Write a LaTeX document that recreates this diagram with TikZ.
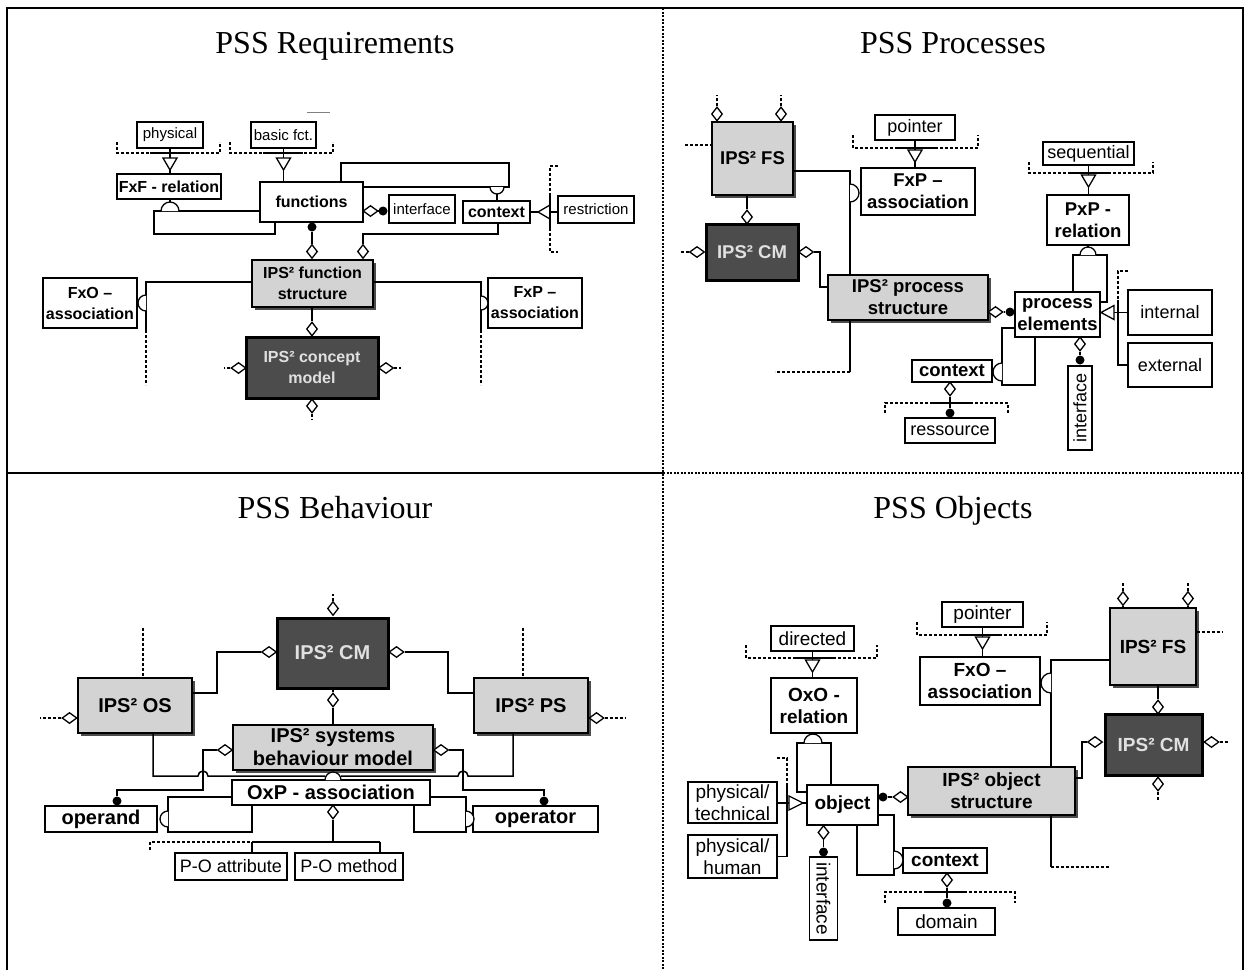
\documentclass[tikz,border=0pt]{standalone}
\usepackage{fontspec}
\setmainfont{Liberation Serif}
\newfontfamily\arial{Liberation Sans}
\usetikzlibrary{shapes.geometric,shadows}

\definecolor{boxgrey}{HTML}{D3D3D3}
\definecolor{boxdark}{HTML}{4C4C4C}

\newcommand\qaf{\arial\fontsize{15}{20}\selectfont}
\newcommand\qab{\arial\bfseries\fontsize{16}{21}\selectfont}
\newcommand\qbf{\arial\fontsize{18}{21}\selectfont}
\newcommand\qbb{\arial\bfseries\fontsize{18.5}{22}\selectfont}
\newcommand\qcf{\arial\fontsize{18}{22}\selectfont}
\newcommand\qcb{\arial\bfseries\fontsize{20}{23}\selectfont}
\newcommand\qdf{\arial\fontsize{19}{22}\selectfont}
\newcommand\qdb{\arial\bfseries\fontsize{19}{22}\selectfont}

\tikzset{
  box/.style={draw, line width=1.5pt, fill=white, inner sep=1pt, align=center},
  grey/.style={box, fill=boxgrey, drop shadow={shadow xshift=3pt, shadow yshift=-3pt, fill=black!70, opacity=1}},
  dark/.style={box, fill=boxdark, line width=3pt, text=white!88!black},
  agg/.style={diamond, draw, fill=white, line width=1.3pt, inner sep=0pt, minimum width=11pt, minimum height=14pt},
  aggh/.style={agg, minimum width=15pt, minimum height=11pt},
  dot/.style={circle, fill=black, inner sep=0pt, minimum size=9pt},
  link/.style={line width=1.5pt},
  cat/.style={line width=1.3pt, dash pattern=on 3pt off 2pt},
  sym/.style={line width=1.3pt, fill=white},
  title/.style={anchor=base, font=\fontsize{32}{38}\selectfont}
}

\begin{document}
\begin{tikzpicture}[x=1pt, y=-1pt]
    \useasboundingbox (0,0) rectangle (1248,970);
    \fill[white] (0,0) rectangle (1248,970);

    % table frame
    \draw[line width=2pt] (7,970) -- (7,8) -- (1243,8) -- (1243,970);
    \draw[line width=2pt] (7,473) -- (663,473);
    \draw[line width=1.5pt, dash pattern=on 2pt off 1.5pt] (663,473) -- (1243,473);
    \draw[line width=1.5pt, dash pattern=on 2pt off 1.5pt] (663,8) -- (663,970);

    \node[title] (treq) at (335,53) {PSS Requirements};
    \node[title] (tpro) at (953,53) {PSS Processes};
    \node[title] (tbeh) at (335,518) {PSS Behaviour};
    \node[title] (tobj) at (953,518) {PSS Objects};

    % ---------------- PSS Requirements
    \node[box, font=\qaf, minimum width=66, minimum height=26] (phys) at (170,135) {physical};
    \node[box, font=\qaf, minimum width=65, minimum height=26] (basic) at (283.5,135) {basic fct.};
    \node[box, font=\qab, minimum width=104, minimum height=25] (fxf) at (169,186.5) {FxF - relation};
    \node[box, font=\qab, minimum width=103, minimum height=40] (fun) at (311.5,202) {functions};
    \node[box, font=\qaf, minimum width=66, minimum height=28] (ifc) at (422,209) {interface};
    \node[box, font=\qab, minimum width=67, minimum height=22] (ctx) at (496.5,212) {context};
    \node[box, font=\qaf, minimum width=76, minimum height=27] (restr) at (596,209.5) {restriction};
    \node[grey, font=\qab, minimum width=121, minimum height=47] (fs) at (312.5,283.5) {IPS² function\\structure};
    \node[box, font=\qab, minimum width=94, minimum height=50] (fxo) at (90,303) {FxO –\\association};
    \node[box, font=\qab, minimum width=94, minimum height=50] (fxp) at (535,303) {FxP –\\association};
    \node[dark, font=\qab, minimum width=132, minimum height=61] (cm) at (312,367.5) {IPS² concept\\model};

    \draw[gray, line width=0.8pt] (307,112) -- (330,112);

    \draw[link] (phys.south) -- (phys.south |- fxf.north);
    \draw[cat] (117,142) -- (117,153) -- (220,153) -- (220,142);
    \draw[link] (150,153) -- (190,153);
    \draw[sym] (170,170) -- ++(-7,-12) -- ++(14,0) -- cycle;

    \draw[link] (basic.south) -- (basic.south |- fun.north);
    \draw[cat] (230,142) -- (230,153) -- (333,153) -- (333,142);
    \draw[link] (263,153) -- (303,153);
    \draw[sym] (283.5,170) -- ++(-7,-12) -- ++(14,0) -- cycle;

    \draw[link] (fun.west |- 0,211) -- (154,211) -- (154,234) -- (275,234) -- (275,0 |- fun.south);
    \draw[link] (170,202) -- (fxf.south -| 170,0);
    \draw[sym] (161,211) arc[start angle=180, end angle=0, radius=9pt];

    \draw[link] (341,0 |- fun.north) -- (341,163) -- (509,163) -- (509,187) -- (fun.east |- 0,187);
    \draw[link] (497,194) -- (497,0 |- ctx.north);
    \draw[sym] (490,187) arc[start angle=180, end angle=360, radius=7pt];

    \node[aggh] (a1) at (370.5,211) {};
    \node[dot] (p2) at (383,211) {};
    \draw[link] (a1) -- (p2) -- (ifc.west |- p2);

    \draw[link] (ctx.east) -- (restr.west |- ctx.east);
    \draw[sym] (538,212) -- ++(12,-7) -- ++(0,14) -- cycle;
    \draw[cat] (558,166) -- (550,166) -- (550,252) -- (558,252);
    \draw[link] (550,195) -- (550,229);

    \node[agg] (a2) at (363,251.5) {};
    \draw[link] (498,0 |- ctx.south) -- (498,234) -- (363,234) -- (a2);
    \draw[link] (a2) -- (a2 |- fs.north);

    \node[dot] (p1) at (312,227) {};
    \node[agg] (a3) at (312,251.5) {};
    \draw[link] (p1) -- (a3) (a3) -- (a3 |- fs.north);

    \draw[link] (fs.west |- 0,282) -- (146,282) -- (146,330);
    \draw[cat] (146,330) -- (146,385);
    \draw[sym] (146,295) arc[start angle=90, end angle=270, radius=8pt];
    \draw[link] (fs.east |- 0,282) -- (481,282) -- (481,330);
    \draw[cat] (481,330) -- (481,385);
    \draw[sym] (481,296) arc[start angle=90, end angle=-90, radius=7pt];

    \node[agg] (a4) at (312,329) {};
    \draw[link] (fs.south -| a4) -- (a4) -- (a4 |- cm.north);
    \node[aggh] (a5) at (238.5,368) {};
    \draw[cat] (a5) -- (224,368);
    \node[aggh] (a6) at (386,368) {};
    \draw[cat] (a6) -- (401,368);
    \node[agg] (a7) at (312,406) {};
    \draw[cat] (a7) -- (312,420);

    % ---------------- PSS Processes
    \node[grey, font=\qbb, minimum width=81, minimum height=73] (fs2) at (752.5,158.5) {IPS² FS};
    \node[dark, font=\qbb, minimum width=92, minimum height=56] (cm2) at (752,252) {IPS² CM};
    \node[box, font=\qbb, minimum width=114, minimum height=47] (fxp2) at (918,191.5) {FxP –\\association};
    \node[box, font=\qbf, minimum width=80, minimum height=25] (ptr2) at (915,127.5) {pointer};
    \node[box, font=\qbf, minimum width=91, minimum height=23] (seq) at (1088.5,153.5) {sequential};
    \node[box, font=\qbb, minimum width=82, minimum height=50] (pxp) at (1088,220) {PxP -\\relation};
    \node[grey, font=\qbb, minimum width=160, minimum height=45] (ps) at (908,297.5) {IPS² process\\structure};
    \node[box, font=\qbb, minimum width=85, minimum height=45] (pe) at (1057.5,314.5) {process\\elements};
    \node[box, font=\qbb, minimum width=80, minimum height=22] (ctx2) at (952,371) {context};
    \node[box, font=\qbf, minimum width=90, minimum height=25] (res) at (950,430.5) {ressource};
    \node[box, font=\qbf, minimum width=84, minimum height=45] (int) at (1170,312.5) {internal};
    \node[box, font=\qbf, minimum width=84, minimum height=44] (ext) at (1170,365) {external};
    \node[box, font=\qbf, rotate=90, minimum width=84, minimum height=24] (ifc2) at (1080,408) {interface};

    \node[agg] (b1) at (717,114) {};
    \node[agg] (b2) at (781,114) {};
    \draw[link] (b1) -- (b1 |- fs2.north) (b2) -- (b2 |- fs2.north);
    \draw[cat] (b1) -- (717,95) (b2) -- (781,95);
    \draw[cat] (685,145) -- (fs2.west |- 0,145);

    \node[agg] (b3) at (747,217) {};
    \draw[link] (fs2.south -| b3) -- (b3);
    \node[aggh] (b4) at (697,252) {};
    \draw[cat] (b4) -- (680,252);
    \node[aggh] (b5) at (806,252) {};
    \draw[link] (b5) -- (820,252) -- (820,287) -- (ps.west |- 0,287);

    \draw[link] (fs2.east |- 0,171) -- (850,171) -- (850,0 |- ps.north);
    \draw[link] (850,0 |- ps.south) -- (850,372);
    \draw[cat] (850,372) -- (775,372);
    \draw[sym] (850,184) arc[start angle=90, end angle=-90, radius=9pt];

    \draw[link] (ptr2.south) -- (ptr2.south |- fxp2.north);
    \draw[cat] (853,135) -- (853,148) -- (978,148) -- (978,135);
    \draw[link] (895,148) -- (935,148);
    \draw[sym] (915,162) -- ++(-7,-12) -- ++(14,0) -- cycle;

    \draw[link] (seq.south) -- (seq.south |- pxp.north);
    \draw[cat] (1029,162) -- (1029,173) -- (1153,173) -- (1153,162);
    \draw[link] (1068,173) -- (1108,173);
    \draw[sym] (1088.5,187) -- ++(-7,-12) -- ++(14,0) -- cycle;

    \draw[link] (1073,0 |- pe.north) -- (1073,255) -- (1107,255) -- (1107,302) -- (pe.east |- 0,302);
    \draw[link] (1088,247) -- (1088,0 |- pxp.south);
    \draw[sym] (1080,255) arc[start angle=180, end angle=0, radius=8pt];

    \node[aggh] (b6) at (995.5,312) {};
    \node[dot] (b7) at (1010,312) {};
    \draw[link] (b6) -- (b7);

    \draw[link] (pe.west |- 0,328) -- (1002,328) -- (1002,385) -- (1035,385) -- (1035,0 |- pe.south);
    \draw[sym] (1002,363) arc[start angle=90, end angle=270, radius=9pt];

    \node[agg] (b8) at (950,389) {};
    \node[dot] (b9) at (950,413) {};
    \draw[link] (b8) -- (b9);
    \draw[cat] (885,413) -- (885,403) -- (1008,403) -- (1008,413);
    \draw[link] (930,403) -- (970,403);

    \draw[link] (pe.east |- int.west) -- (int.west);
    \draw[sym] (1101,312.5) -- ++(13,-7) -- ++(0,14) -- cycle;
    \draw[cat] (1128,271) -- (1118,271) -- (1118,300);
    \draw[link] (1118,300) -- (1118,0 |- ext.west) -- (ext.west);

    \node[agg] (b10) at (1080,344) {};
    \node[dot] (b11) at (1080,360) {};
    \draw[link] (b10) -- (b11) -- (ifc2.east);

    % ---------------- PSS Behaviour
    \node[dark, font=\qcb, minimum width=111, minimum height=70] (cm3) at (332.5,653) {IPS² CM};
    \node[grey, font=\qcb, minimum width=114, minimum height=55] (os) at (135,705.5) {IPS² OS};
    \node[grey, font=\qcb, minimum width=114, minimum height=55] (ps3) at (531,705.5) {IPS² PS};
    \node[grey, font=\qcb, minimum width=200, minimum height=45] (sbm) at (333,747.5) {IPS² systems\\behaviour model};
    \node[box, font=\qcb, minimum width=198, minimum height=25] (oxp) at (331,792.5) {OxP - association};
    \node[box, font=\qcb, minimum width=112, minimum height=26] (opd) at (101,819) {operand};
    \node[box, font=\qcb, minimum width=125, minimum height=26] (opr) at (535.5,819) {operator};
    \node[box, font=\qcf, minimum width=112, minimum height=27] (poa) at (231,866.5) {P-O attribute};
    \node[box, font=\qcf, minimum width=108, minimum height=27] (pom) at (349,866.5) {P-O method};

    \node[agg] (c1) at (333,608.5) {};
    \draw[cat] (c1) -- (333,594);
    \node[aggh] (c2) at (269,652) {};
    \draw[link] (c2) -- (217,652) -- (217,693) -- (os.east |- 0,693);
    \node[aggh] (c3) at (396.5,652) {};
    \draw[link] (c3) -- (448,652) -- (448,693) -- (ps3.west |- 0,693);
    \draw[cat] (143,628) -- (143,0 |- os.north);
    \draw[cat] (523,628) -- (523,0 |- ps3.north);
    \node[aggh] (c4) at (69.5,718) {};
    \draw[cat] (c4) -- (40,718);
    \node[aggh] (c5) at (596.5,718) {};
    \draw[cat] (c5) -- (625,718);
    \node[agg] (c6) at (333,700) {};
    \draw[link] (cm3.south -| c6) -- (c6) -- (c6 |- sbm.north);

    \node[aggh] (c7) at (225,750) {};
    \node[dot] (c8) at (117,801) {};
    \draw[link] (c7) -- (203,750) -- (203,790) -- (117,790) -- (c8);
    \node[aggh] (c9) at (441,750) {};
    \node[dot] (c10) at (544,801) {};
    \draw[link] (c9) -- (463,750) -- (463,790) -- (544,790) -- (c10);

    \draw[link] (153,0 |- os.south) -- (153,776) -- (198,776) arc[start angle=180, end angle=0, radius=5pt] -- (325,776);
    \draw[link] (513,0 |- ps3.south) -- (513,776) -- (468,776) arc[start angle=0, end angle=180, radius=5pt] -- (341,776);
    \draw[sym] (325,780) arc[start angle=180, end angle=0, radius=8pt];

    \draw[link] (oxp.west |- 0,797) -- (168,797) -- (168,832) -- (252,832) -- (252,0 |- oxp.south);
    \draw[sym] (168,811) arc[start angle=90, end angle=270, radius=8pt];
    \draw[link] (oxp.east |- 0,797) -- (466,797) -- (466,832) -- (414,832) -- (414,0 |- oxp.south);
    \draw[sym] (466,811) arc[start angle=90, end angle=-90, radius=8pt];

    \node[agg] (c11) at (333,812) {};
    \draw[link] (oxp.south -| c11) -- (c11) -- (333,842);
    \draw[cat] (150,850) -- (150,842) -- (252,842);
    \draw[link] (252,842) -- (380,842);
    \draw[link] (252,842) -- (252,0 |- poa.north);
    \draw[link] (380,842) -- (380,0 |- pom.north);

    % ---------------- PSS Objects
    \node[box, font=\qdf, minimum width=83, minimum height=25] (dir) at (812.5,638.5) {directed};
    \node[box, font=\qdb, minimum width=86, minimum height=55] (oxo) at (814,705.5) {OxO -\\relation};
    \node[box, font=\qdb, minimum width=71, minimum height=40] (obj) at (842.5,805) {object};
    \node[box, font=\qdf, minimum width=89, minimum height=41] (ptech) at (732.5,802.5) {physical/\\technical};
    \node[box, font=\qdf, minimum width=89, minimum height=43] (phum) at (732.5,856.5) {physical/\\human};
    \node[grey, font=\qdb, minimum width=167, minimum height=48] (os4) at (991.5,791) {IPS² object\\structure};
    \node[grey, font=\qdb, minimum width=86, minimum height=77] (fs4) at (1153,646.5) {IPS² FS};
    \node[box, font=\qdb, minimum width=120, minimum height=48] (fxo4) at (980,681) {FxO –\\association};
    \node[box, font=\qdf, minimum width=81, minimum height=25] (ptr4) at (982.5,614.5) {pointer};
    \node[dark, font=\qdb, minimum width=97, minimum height=61] (cm4) at (1153.5,744.5) {IPS² CM};
    \node[box, font=\qdf, rotate=-90, minimum width=83, minimum height=28] (ifc4) at (823.5,898.5) {interface};
    \node[box, font=\qdb, minimum width=84, minimum height=25] (ctx4) at (945,860.5) {context};
    \node[box, font=\qdf, minimum width=97, minimum height=27] (dom) at (946.5,921.5) {domain};

    \draw[link] (dir.south) -- (dir.south |- oxo.north);
    \draw[cat] (746,645) -- (746,658) -- (877,658) -- (877,645);
    \draw[link] (793,658) -- (833,658);
    \draw[sym] (812.5,672) -- ++(-7,-12) -- ++(14,0) -- cycle;

    \draw[link] (obj.west |- 0,792) -- (797,792) -- (797,743) -- (831,743) -- (831,0 |- obj.north);
    \draw[sym] (804,743) arc[start angle=180, end angle=0, radius=9pt];

    \draw[link] (ptech.east |- 0,803) -- (obj.west |- 0,803);
    \draw[sym] (803,803) -- ++(-14,-7) -- ++(0,14) -- cycle;
    \draw[cat] (777,758) -- (787,758) -- (787,785);
    \draw[link] (787,785) -- (787,0 |- phum.east) -- (phum.east);

    \node[dot] (e1) at (883,797) {};
    \node[aggh] (e2) at (900.5,797) {};
    \draw[link] (e1) -- (e2);

    \node[agg] (e3) at (1123,598.5) {};
    \node[agg] (e4) at (1188,598.5) {};
    \draw[cat] (e3) -- (1123,582) (e4) -- (1188,582);
    \draw[link] (e3) -- (e3 |- fs4.north) (e4) -- (e4 |- fs4.north);
    \draw[cat] (fs4.east |- 0,632) -- (1223,632);
    \draw[link] (fs4.west |- 0,660) -- (1051,660) -- (1051,0 |- os4.north);
    \draw[link] (1051,0 |- os4.south) -- (1051,867);
    \draw[cat] (1051,867) -- (1110,867);
    \draw[sym] (1051,673) arc[start angle=90, end angle=270, radius=10pt];

    \draw[link] (ptr4.south) -- (ptr4.south |- fxo4.north);
    \draw[cat] (917,622) -- (917,635) -- (1047,635) -- (1047,622);
    \draw[link] (962,635) -- (1002,635);
    \draw[sym] (982.5,649) -- ++(-7,-12) -- ++(14,0) -- cycle;

    \node[agg] (e5) at (1158,707) {};
    \draw[link] (fs4.south -| e5) -- (e5) -- (e5 |- cm4.north);
    \node[aggh] (e6) at (1095,742) {};
    \draw[link] (e6) -- (1082,742) -- (1082,778) -- (os4.east |- 0,778);
    \node[aggh] (e7) at (1211.5,742) {};
    \draw[cat] (e7) -- (1228,742);
    \node[agg] (e8) at (1158,784) {};
    \draw[cat] (e8) -- (1158,800);

    \node[agg] (e9) at (823.5,832.5) {};
    \node[dot] (e10) at (823.5,852) {};
    \draw[link] (obj.south -| e9) -- (e9) -- (e10) -- (ifc4.west);

    \draw[link] (obj.east |- 0,815) -- (894,815) -- (894,875) -- (857,875) -- (857,0 |- obj.south);
    \draw[sym] (894,851) arc[start angle=90, end angle=-90, radius=9pt];

    \node[agg] (e11) at (947,880) {};
    \node[dot] (e12) at (947,903) {};
    \draw[link] (e11) -- (e12);
    \draw[cat] (885,903) -- (885,892) -- (1015,892) -- (1015,903);
    \draw[link] (927,892) -- (967,892);
\end{tikzpicture}
\end{document}
